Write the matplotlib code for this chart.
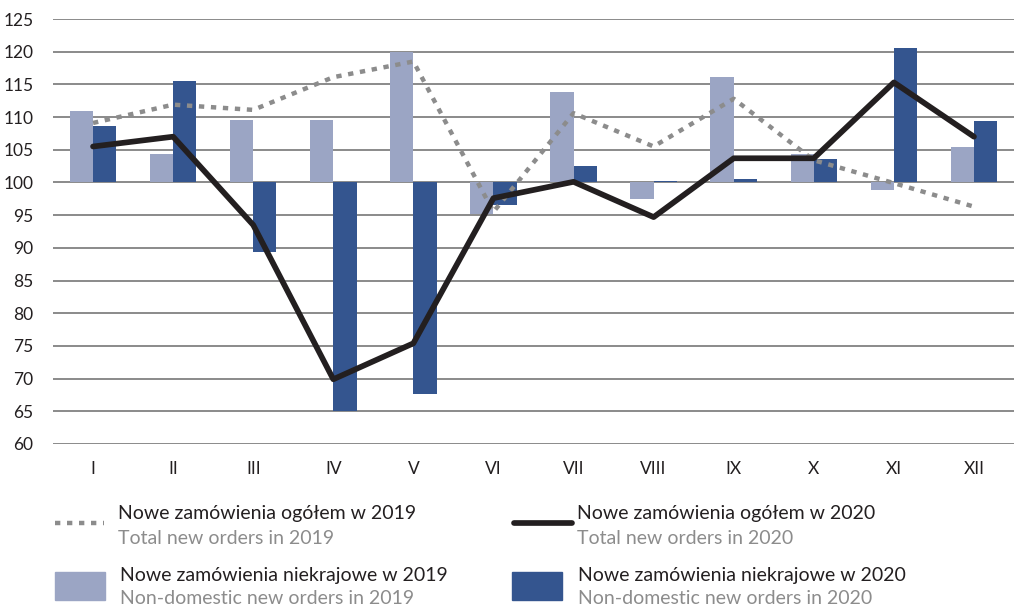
import numpy as np
import matplotlib.pyplot as plt
from matplotlib.lines import Line2D
from matplotlib.patches import Rectangle

plt.rcParams['font.family'] = ['Lato', 'DejaVu Sans']

months = ['I', 'II', 'III', 'IV', 'V', 'VI', 'VII', 'VIII', 'IX', 'X', 'XI', 'XII']
total_2019 = [109.1, 111.9, 111.1, 116.1, 118.5, 95.5, 110.6, 105.5, 112.8, 103.4, 99.9, 96.3]
total_2020 = [105.5, 107.0, 93.5, 69.9, 75.4, 97.6, 100.1, 94.7, 103.7, 103.7, 115.3, 107.0]
nondom_2019 = [110.9, 104.4, 109.6, 109.6, 120.0, 95.2, 113.8, 97.5, 116.1, 104.3, 98.9, 105.4]
nondom_2020 = [108.7, 115.5, 89.3, 65.0, 67.7, 96.6, 102.5, 100.2, 100.5, 103.6, 120.6, 109.4]

c_light = '#9ba5c4'
c_dark = '#34558f'
c_dot = '#8c8c8c'
c_black = '#231f20'

fig = plt.figure(figsize=(10.14, 6.07), dpi=100)
ax = fig.add_axes([53/1014, 1 - 444/607, 1 - 53/1014, (444 - 19)/607])

x = np.arange(len(months))
w = 0.29
base = 100
ax.bar(x - w/2, np.array(nondom_2019) - base, bottom=base, width=w, color=c_light, zorder=2)
ax.bar(x + w/2, np.array(nondom_2020) - base, bottom=base, width=w, color=c_dark, zorder=2)
ax.plot(x, total_2019, color=c_dot, lw=3.2, dashes=(1.2, 1.5), zorder=3)
ax.plot(x, total_2020, color=c_black, lw=4.1, zorder=4, solid_capstyle='round')

ax.set_xlim(-0.5, len(months) - 0.5)
ax.set_ylim(60, 125)
ax.set_yticks(range(60, 126, 5))
ax.set_xticks(x)
ax.set_xticklabels(months)
ax.yaxis.grid(True, color='#8a8a8a', lw=1.4, zorder=1)
ax.set_axisbelow(True)
for s in ax.spines.values():
    s.set_visible(False)
ax.tick_params(length=0, labelsize=12.5, colors=c_black)
ax.tick_params(axis='x', pad=12)
ax.tick_params(axis='y', pad=14)

# legend
def fy(py):
    return 1 - py/607

fig.add_artist(Line2D([55/1014, 104/1014], [fy(523), fy(523)], color=c_dot, lw=3.2, dashes=(1.2, 1.5)))
fig.add_artist(Line2D([514/1014, 572/1014], [fy(523), fy(523)], color=c_black, lw=4.1, solid_capstyle='round'))
fig.add_artist(Rectangle((55/1014, fy(600)), 50/1014, 28/607, color=c_light, transform=fig.transFigure))
fig.add_artist(Rectangle((512/1014, fy(600)), 50/1014, 28/607, color=c_dark, transform=fig.transFigure))

legend_items = [
    (118, 514, 'Nowe zamówienia ogółem w 2019', 'Total new orders in 2019'),
    (577, 514, 'Nowe zamówienia ogółem w 2020', 'Total new orders in 2020'),
    (120, 575, 'Nowe zamówienia niekrajowe w 2019', 'Non-domestic new orders in 2019'),
    (578, 575, 'Nowe zamówienia niekrajowe w 2020', 'Non-domestic new orders in 2020'),
]
for px, py, pl, en in legend_items:
    fig.text(px/1014, fy(py), pl, fontsize=14, color=c_black, va='center', ha='left')
    fig.text(px/1014, fy(py + 24), en, fontsize=14, color='#8c8c8c', va='center', ha='left')

fig.savefig('out.png', dpi=100)
